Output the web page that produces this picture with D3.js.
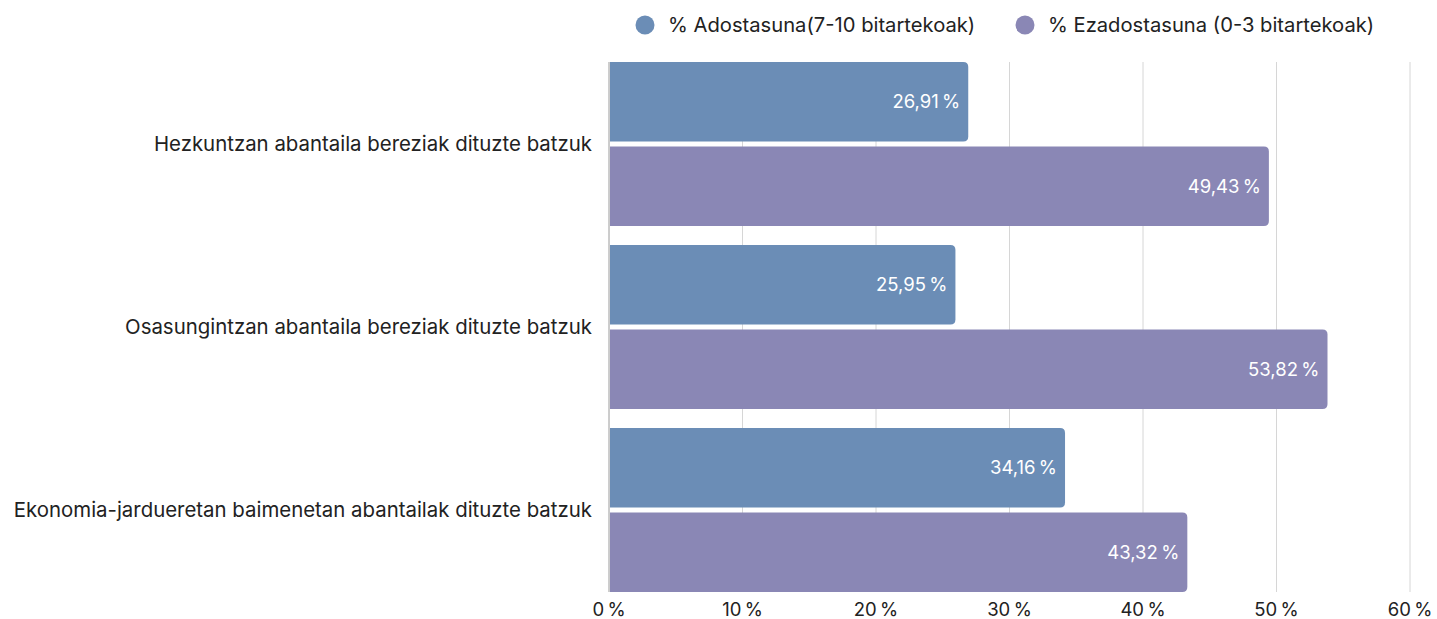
<!DOCTYPE html>
<html>
<head>
<meta charset="utf-8">
<script src="https://d3js.org/d3.v7.min.js"></script>
<style>
  body { margin: 0; background: #fff; font-family: 'Inter', 'Roboto', sans-serif; }
  svg text { font-family: 'Inter', 'Roboto', sans-serif; }
</style>
</head>
<body>
<svg id="chart"></svg>
<script>
const categories = [
  "Hezkuntzan abantaila bereziak dituzte batzuk",
  "Osasungintzan abantaila bereziak dituzte batzuk",
  "Ekonomia-jardueretan baimenetan abantailak dituzte batzuk"
];
const seriesNames = ["% Adostasuna(7-10 bitartekoak)", "% Ezadostasuna (0-3 bitartekoak)"];
const agreeValues = [26.91, 25.95, 34.16];
const disagreeValues = [49.43, 53.82, 43.32];
const xTicks = [0, 10, 20, 30, 40, 50, 60];
const colors = ["#6b8db6", "#8a87b5"];

const width = 1437, height = 619;
const margin = { top: 62, right: 27, bottom: 27, left: 609 };

const svg = d3.select("#chart").attr("width", width).attr("height", height);

const x = d3.scaleLinear().domain([0, 60]).range([margin.left, width - margin.right]);
const y = d3.scaleBand().domain(categories)
  .range([margin.top, height - margin.bottom]).paddingInner(0.104).paddingOuter(0);
const ySub = d3.scaleBand().domain([0, 1]).range([0, y.bandwidth()]).paddingInner(0.06);

const fmt = v => d3.format(".2f")(v).replace(".", ",") + "\u2009%";

// grid
svg.append("g").selectAll("line").data(xTicks.slice(1)).join("line")
  .attr("x1", d => x(d)).attr("x2", d => x(d))
  .attr("y1", margin.top).attr("y2", height - margin.bottom)
  .attr("stroke", "#d6d6d6").attr("stroke-width", 1);

// axis line
svg.append("line")
  .attr("x1", x(0)).attr("x2", x(0))
  .attr("y1", margin.top).attr("y2", height - margin.bottom)
  .attr("stroke", "#9a9a9a").attr("stroke-width", 1);

// tick labels
svg.append("g").selectAll("text").data(xTicks).join("text")
  .attr("x", d => x(d)).attr("y", height - 3)
  .attr("text-anchor", "middle")
  .attr("font-size", 18.5).attr("fill", "#222")
  .text(d => d + "\u2009%");

function barPath(x0, x1, y0, h, r) {
  r = Math.min(r, x1 - x0);
  return `M${x0},${y0}H${x1 - r}Q${x1},${y0} ${x1},${y0 + r}V${y0 + h - r}Q${x1},${y0 + h} ${x1 - r},${y0 + h}H${x0}Z`;
}

const rows = categories.map((c, i) => ({ cat: c, vals: [agreeValues[i], disagreeValues[i]] }));

const groups = svg.append("g").selectAll("g").data(rows).join("g")
  .attr("transform", d => `translate(0,${y(d.cat)})`);

groups.append("text")
  .attr("x", margin.left - 17)
  .attr("y", y.bandwidth() / 2)
  .attr("dy", "0.35em")
  .attr("text-anchor", "end")
  .attr("font-size", 20.4).attr("fill", "#222")
  .text(d => d.cat);

const bars = groups.selectAll("g.bar").data(d => d.vals.map((v, j) => ({ v, j }))).join("g").attr("class", "bar");

bars.append("path")
  .attr("d", d => barPath(x(0) + 1, x(d.v), ySub(d.j), ySub.bandwidth(), 5))
  .attr("fill", d => colors[d.j]);

bars.append("text")
  .attr("x", d => x(d.v) - 8)
  .attr("y", d => ySub(d.j) + ySub.bandwidth() / 2)
  .attr("dy", "0.35em")
  .attr("text-anchor", "end")
  .attr("font-size", 18.5).attr("fill", "#fff")
  .text(d => fmt(d.v));

// legend
const legendX = [645, 1025];
const legend = svg.append("g").selectAll("g").data(seriesNames).join("g")
  .attr("transform", (d, i) => `translate(${legendX[i]},25)`);
legend.append("circle").attr("r", 9.5).attr("fill", (d, i) => colors[i]);
legend.append("text")
  .attr("x", 23).attr("dy", "0.35em")
  .attr("font-size", 20.2).attr("fill", "#222")
  .text(d => d);
</script>
</body>
</html>
